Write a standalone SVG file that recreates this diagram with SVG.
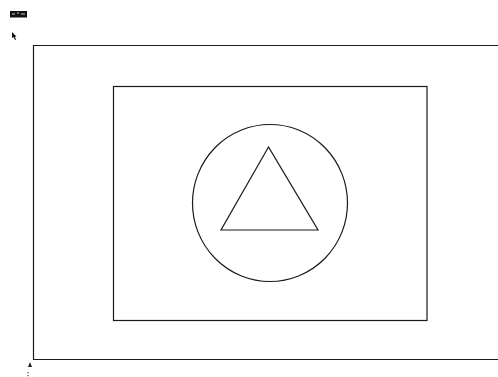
<svg xmlns="http://www.w3.org/2000/svg" width="498" height="377" viewBox="0 0 498 377">
<style>
.ln{fill:none;stroke:#1a1a1a;stroke-width:1.2}
</style>
<rect width="498" height="377" fill="#ffffff"/>
<g id="logo">
<rect x="10" y="11" width="17" height="6.5" fill="#111"/>
<path d="M12 14h3M17 13h2M21 14h4" stroke="#ccc" stroke-width="1"/>
</g>
<g id="cursor">
<path d="M12 32 L12 38 L13.5 37 L15 40 L16 39.5 L14.8 36.7 L16.5 36.5 Z" fill="#111"/>
</g>
<g id="outer-frame">
<path class="ln" d="M500 45.5 H33.5 V359.5 H500"/>
</g>
<g id="inner-frame">
<rect class="ln" x="113.5" y="86.5" width="313.5" height="234"/>
</g>
<g id="circle">
<ellipse class="ln" cx="270" cy="203" rx="77.5" ry="78.5"/>
</g>
<g id="triangle">
<polygon class="ln" points="268.5,147 221,230 318,230"/>
</g>
<g id="marks">
<path d="M28 367 L30 362 L32 367 Z" fill="#222"/>
<rect x="27.5" y="372" width="1.2" height="1.2" fill="#444"/>
<rect x="27.5" y="375" width="1.2" height="1.2" fill="#444"/>
</g>
<g id="connectors"></g>
</svg>
